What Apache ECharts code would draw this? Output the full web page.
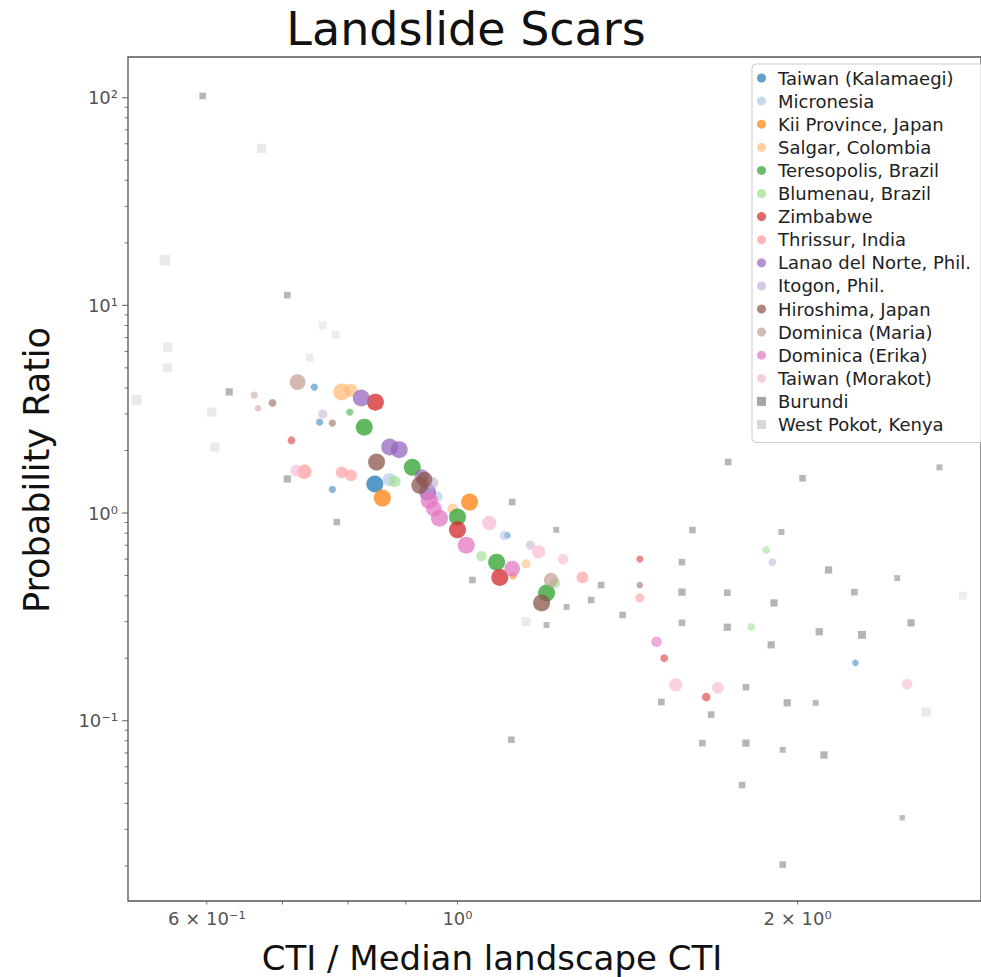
<!DOCTYPE html>
<html>
<head>
<meta charset="utf-8">
<script src="https://cdn.jsdelivr.net/npm/echarts@6/dist/echarts.min.js"></script>
<style>
html,body{margin:0;padding:0;background:#fff;}
#chart{width:981px;height:977px;}
</style>
</head>
<body>
<div id="chart"></div>
<script>
// ---- axis ranges & tick labels ----
const xRange = [0.511, 2.906];
const yRange = [0.01355, 157];
const xTickMajor = [1];
const xTickMinor = [0.6, 0.7, 0.8, 0.9, 2];
const xTickLabelValues = [0.6, 1, 2];
const xTickLabels = ['6 × 10⁻¹', '10⁰', '2 × 10⁰'];
const yTickMajor = [0.1, 1, 10, 100];
const yTickLabels = ['10⁻¹', '10⁰', '10¹', '10²'];
const yTickMinor = [0.02,0.03,0.04,0.05,0.06,0.07,0.08,0.09,
                    0.2,0.3,0.4,0.5,0.6,0.7,0.8,0.9,
                    2,3,4,5,6,7,8,9,
                    20,30,40,50,60,70,80,90];

// ---- series names & colours ----
const seriesNames = ['Taiwan (Kalamaegi)','Micronesia','Kii Province, Japan','Salgar, Colombia',
  'Teresopolis, Brazil','Blumenau, Brazil','Zimbabwe','Thrissur, India','Lanao del Norte, Phil.',
  'Itogon, Phil.','Hiroshima, Japan','Dominica (Maria)','Dominica (Erika)','Taiwan (Morakot)',
  'Burundi','West Pokot, Kenya'];
const seriesColors = ['#1f77b4','#aec7e8','#ff7f0e','#ffbb78','#2ca02c','#98df8a','#d62728','#ff9896',
  '#9467bd','#c5b0d5','#8c564b','#c49c94','#e377c2','#f7b6d2','#7f7f7f','#c7c7c7'];

// ---- data: [CTI ratio, probability ratio, weight] ----
const taiwanKalamaegi = [[0.845,1.38,1],[0.755,2.74,0.25],[0.775,1.30,0.25],[2.25,0.19,0.2],[0.747,4.04,0.25],[1.107,0.78,0.2]];
const micronesia = [[0.87,1.45,0.7],[1.10,0.78,0.4],[0.96,1.20,0.5]];
const kiiProvince = [[0.858,1.18,1],[1.025,1.13,1],[1.12,0.50,0.3]];
const salgar = [[0.79,3.83,1],[0.805,3.9,0.7],[0.99,1.05,0.5],[1.15,0.57,0.4]];
const teresopolis = [[0.827,2.59,1],[0.912,1.66,1],[1.0,0.957,1],[1.083,0.58,1],[1.199,0.412,1],[0.803,3.06,0.25]];
const blumenau = [[0.88,1.42,0.6],[1.05,0.62,0.5],[1.22,0.46,0.5],[1.876,0.663,0.3],[1.82,0.283,0.3]];
const zimbabwe = [[0.846,3.42,1],[1.0,0.83,1],[1.09,0.49,1],[0.713,2.24,0.3],[1.524,0.20,0.3],[1.66,0.13,0.35],[1.45,0.60,0.25]];
const thrissur = [[0.732,1.58,0.8],[0.79,1.57,0.6],[0.805,1.52,0.6],[1.45,0.39,0.4],[1.29,0.49,0.6]];
const lanaoDelNorte = [[0.822,3.58,1],[0.871,2.08,1],[0.888,2.02,1],[0.941,1.26,1],[0.93,1.50,0.8]];
const itogon = [[0.95,1.40,0.6],[1.16,0.70,0.4],[0.76,3.0,0.4],[1.90,0.58,0.3]];
const hiroshima = [[0.848,1.76,1],[0.926,1.36,1],[0.935,1.45,0.9],[1.187,0.369,1],[0.686,3.39,0.3],[0.775,2.71,0.25],[1.45,0.45,0.2]];
const dominicaMaria = [[0.722,4.27,0.9],[1.21,0.476,0.8],[0.661,3.7,0.25],[0.666,3.2,0.2]];
const dominicaErika = [[0.944,1.15,1],[0.964,0.945,1],[1.018,0.70,1],[1.118,0.54,0.9],[0.953,1.05,0.9],[1.50,0.24,0.5]];
const taiwanMorakot = [[1.067,0.895,0.8],[1.18,0.65,0.7],[1.56,0.149,0.7],[1.70,0.144,0.6],[2.5,0.15,0.5],[1.24,0.60,0.5],[0.72,1.60,0.6]];
const burundi = [[1.736,1.76,0.2],[2.02,1.47,0.2],[2.67,1.66,0.15],[1.614,0.828,0.2],[1.935,0.81,0.15],[1.58,0.58,0.2],
  [2.13,0.532,0.25],[2.45,0.486,0.15],[1.58,0.416,0.25],[1.733,0.413,0.2],[1.906,0.369,0.25],[2.245,0.416,0.2],
  [1.58,0.296,0.2],[1.733,0.282,0.25],[2.52,0.296,0.25],[2.09,0.268,0.25],[2.28,0.259,0.3],[1.895,0.232,0.25],
  [1.80,0.145,0.2],[1.515,0.123,0.2],[1.958,0.122,0.25],[2.075,0.122,0.15],[1.677,0.107,0.2],[1.647,0.078,0.2],
  [1.80,0.078,0.25],[1.94,0.0724,0.15],[2.11,0.0684,0.25],[1.786,0.049,0.2],[2.475,0.0341,0.1],[1.94,0.0203,0.2],
  [1.118,1.13,0.2],[1.223,0.83,0.15],[1.34,0.45,0.2],[1.313,0.381,0.2],[1.40,0.323,0.2],[1.031,0.476,0.2],
  [1.116,0.081,0.2],[1.199,0.289,0.15],[1.249,0.353,0.15],[0.595,102,0.2],[0.707,11.2,0.2],[0.628,3.83,0.25],
  [0.707,1.46,0.25],[0.782,0.905,0.2]];
const westPokot = [[0.551,16.5,0.5],[0.554,6.3,0.4],[0.554,5.0,0.4],[0.671,57,0.4],[0.52,3.5,0.5],[0.61,2.08,0.4],
  [0.606,3.06,0.4],[0.76,8.0,0.3],[0.78,7.2,0.3],[0.74,5.6,0.3],[2.6,0.11,0.4],[1.15,0.30,0.4],[2.8,0.40,0.3]];

const seriesData = [taiwanKalamaegi, micronesia, kiiProvince, salgar, teresopolis, blumenau, zimbabwe, thrissur,
  lanaoDelNorte, itogon, hiroshima, dominicaMaria, dominicaErika, taiwanMorakot, burundi, westPokot];
const seriesSymbols = ['circle','circle','circle','circle','circle','circle','circle','circle','circle','circle',
  'circle','circle','circle','circle','rect','rect'];
const seriesAlpha = [0.45,0.45,0.45,0.45,0.45,0.45,0.45,0.45,0.45,0.45,0.45,0.45,0.45,0.45,0.5,0.25];

const FONT = '"DejaVu Sans", "Liberation Sans", sans-serif';

const chart = echarts.init(document.getElementById('chart'), null, {renderer: 'svg'});

const dataSeries = seriesNames.map((name, i) => ({
  name: name,
  type: 'scatter',
  symbol: seriesSymbols[i],
  itemStyle: {color: seriesColors[i]},
  z: 3,
  data: seriesData[i].map(p => ({
    value: [p[0], p[1]],
    symbolSize: 4 + 13 * p[2],
    itemStyle: {opacity: seriesAlpha[i] + 0.3 * p[2]}
  }))
}));

const tickColor = '#555';
const helperSeries = [
  { // y major ticks + labels
    type: 'scatter', silent: true, clip: false, z: 10, symbol: 'rect',
    symbolSize: [6, 1.2], symbolOffset: [-3, 0],
    itemStyle: {color: tickColor},
    label: {show: true, position: 'left', distance: 4, fontSize: 18, fontFamily: FONT, color: '#222',
      formatter: p => yTickLabels[p.dataIndex]},
    data: yTickMajor.map(v => [xRange[0], v])
  },
  { // y minor ticks
    type: 'scatter', silent: true, clip: false, z: 10, symbol: 'rect',
    symbolSize: [3.5, 1], symbolOffset: [-1.75, 0],
    itemStyle: {color: tickColor},
    data: yTickMinor.map(v => [xRange[0], v])
  },
  { // x ticks
    type: 'scatter', silent: true, clip: false, z: 10, symbol: 'rect',
    symbolSize: [1, 3.5], symbolOffset: [0, 1.75],
    itemStyle: {color: tickColor},
    data: xTickMinor.concat(xTickMajor).map(v => [v, yRange[0]])
  },
  { // x labels
    type: 'scatter', silent: true, clip: false, z: 10, symbol: 'rect',
    symbolSize: [1, 6], symbolOffset: [0, 3],
    itemStyle: {color: 'rgba(0,0,0,0)'},
    label: {show: true, position: 'bottom', distance: 2, fontSize: 18, fontFamily: FONT, color: '#222',
      formatter: p => xTickLabels[p.dataIndex]},
    data: xTickLabelValues.map(v => [v, yRange[0]])
  }
];

chart.setOption({
  backgroundColor: '#fff',
  animation: false,
  grid: {left: 128, top: 57, width: 854, height: 844, show: true, borderColor: '#555', borderWidth: 1.3,
    backgroundColor: '#fff'},
  xAxis: {type: 'log', logBase: 10, min: xRange[0], max: xRange[1],
    axisLine: {show: false}, axisTick: {show: false}, axisLabel: {show: false}, splitLine: {show: false}},
  yAxis: {type: 'log', logBase: 10, min: yRange[0], max: yRange[1],
    axisLine: {show: false}, axisTick: {show: false}, axisLabel: {show: false}, splitLine: {show: false}},
  legend: {
    data: seriesNames,
    orient: 'vertical', left: 752, top: 64,
    padding: [5, 40, 9, 5],
    itemWidth: 9, itemHeight: 9, itemGap: 5.1,
    itemStyle: {opacity: 0.7},
    textStyle: {fontSize: 18, fontFamily: FONT, color: '#222', lineHeight: 18, padding: [0, 0, 0, 7]},
    backgroundColor: 'rgba(255,255,255,0.8)', borderColor: '#ccc', borderWidth: 1, borderRadius: 4
  },
  graphic: [
    {type: 'text', x: 466, y: 29, z: 20,
      style: {text: 'Landslide Scars', font: '46px ' + FONT, fill: '#111', textAlign: 'center', textVerticalAlign: 'middle'}},
    {type: 'text', x: 492, y: 958, z: 20,
      style: {text: 'CTI / Median landscape CTI', font: '34px ' + FONT, fill: '#111', textAlign: 'center', textVerticalAlign: 'middle'}},
    {type: 'text', x: 37, y: 470, rotation: Math.PI / 2, z: 20,
      style: {text: 'Probability Ratio', font: '35px ' + FONT, fill: '#111', textAlign: 'center', textVerticalAlign: 'middle'}}
  ],
  series: dataSeries.concat(helperSeries)
});
</script>
</body>
</html>
